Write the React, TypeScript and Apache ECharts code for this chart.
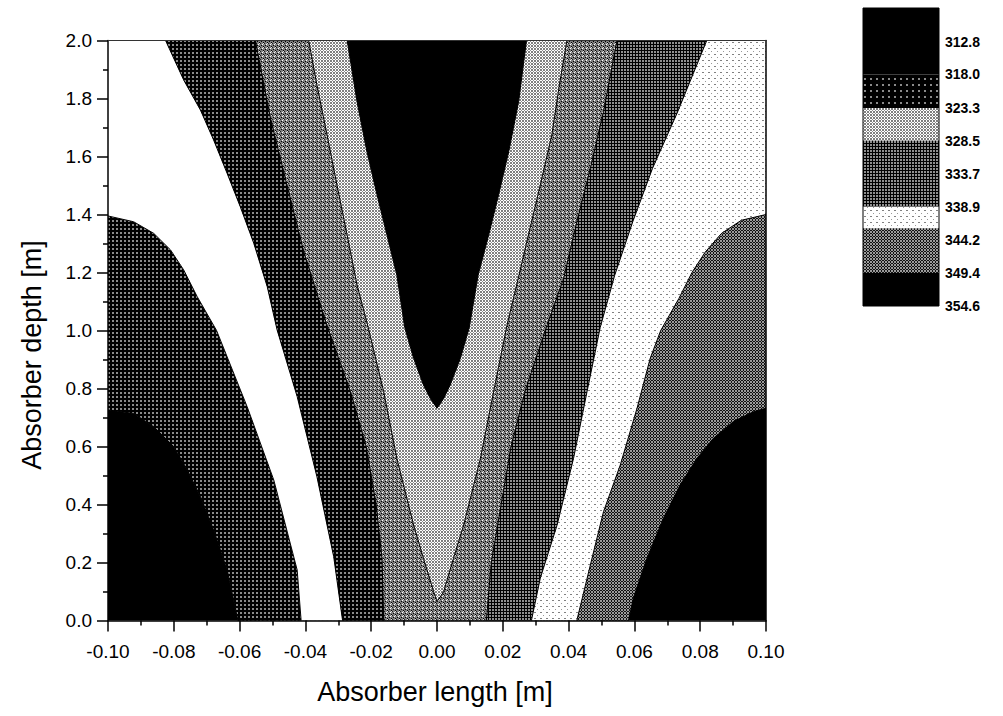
import React, { useEffect, useRef } from 'react';
import * as echarts from 'echarts';

// Axis ranges and tick steps
const X_MIN = -0.1;
const X_MAX = 0.1;
const X_STEP = 0.02;
const Y_MIN = 0;
const Y_MAX = 2.0;
const Y_STEP = 0.2;

// Temperature levels shown on the colour scale
const contourLevels = [312.8, 318.0, 323.3, 328.5, 333.7, 338.9, 344.2, 349.4, 354.6];
const scaleMin = 307.5;
const scaleFrom = [307.5, 318.0, 323.3, 328.5, 338.9, 342.3, 349.4];
const scaleTo = [318.0, 323.3, 328.5, 338.9, 342.3, 349.4, 354.6];

// Contour boundaries as [length, depth] points, from the bottom (or tip) upwards.
// Boundary k encloses band k (band 0 = centre, band 6 = outer corners).
const c0Left = [[0, 0.732], [-0.002, 0.765], [-0.0041, 0.812], [-0.0071, 0.904], [-0.0098, 1.01], [-0.0122, 1.191], [-0.0152, 1.329], [-0.0182, 1.467], [-0.0213, 1.617], [-0.0243, 1.789], [-0.0273, 2.0]];
const c0Right = [[0, 0.732], [0.002, 0.765], [0.004, 0.812], [0.0071, 0.904], [0.0098, 1.01], [0.0125, 1.191], [0.0157, 1.329], [0.0187, 1.467], [0.0218, 1.617], [0.0248, 1.789], [0.0272, 2.0]];

const c1Left = [[0, 0.065], [-0.001, 0.099], [-0.0041, 0.214], [-0.0071, 0.329], [-0.0122, 0.559], [-0.0162, 0.789], [-0.021, 1.015], [-0.0243, 1.157], [-0.0273, 1.329], [-0.0304, 1.502], [-0.0334, 1.674], [-0.0365, 1.847], [-0.039, 2.0]];
const c1Right = [[0, 0.065], [0.002, 0.099], [0.005, 0.214], [0.0081, 0.329], [0.0132, 0.559], [0.0172, 0.789], [0.0213, 1.019], [0.0247, 1.18], [0.0273, 1.306], [0.0314, 1.502], [0.0349, 1.674], [0.0372, 1.847], [0.0395, 2.0]];

const c2Left = [[-0.0162, 0], [-0.0167, 0.214], [-0.0185, 0.4], [-0.0215, 0.6], [-0.0263, 0.789], [-0.0335, 1.02], [-0.0405, 1.272], [-0.0456, 1.502], [-0.0506, 1.732], [-0.0552, 2.0]];
const c2Right = [[0.015, 0], [0.0165, 0.2], [0.0195, 0.4], [0.0225, 0.6], [0.027, 0.8], [0.0335, 1.02], [0.0385, 1.18], [0.0425, 1.375], [0.0466, 1.559], [0.0506, 1.755], [0.0547, 2.0]];

const c3Left = [[-0.0287, 0], [-0.0314, 0.22], [-0.0365, 0.496], [-0.0425, 0.772], [-0.0486, 1.002], [-0.0516, 1.151], [-0.0557, 1.301], [-0.0598, 1.427], [-0.0638, 1.542], [-0.0679, 1.657], [-0.0719, 1.76], [-0.077, 1.864], [-0.0825, 2.0]];
const c3Right = [[0.0287, 0], [0.0314, 0.146], [0.0365, 0.329], [0.0415, 0.559], [0.0456, 0.789], [0.0496, 1.01], [0.054, 1.19], [0.0595, 1.375], [0.0655, 1.559], [0.073, 1.75], [0.082, 2.0]];

const c4Left = [[-0.0413, 0], [-0.0425, 0.174], [-0.0496, 0.484], [-0.0577, 0.737], [-0.067, 1.0], [-0.0729, 1.117], [-0.077, 1.209], [-0.081, 1.278], [-0.0861, 1.335], [-0.0922, 1.375], [-0.1, 1.395]];
const c4Right = [[0.0425, 0], [0.0466, 0.191], [0.0506, 0.375], [0.0557, 0.536], [0.0608, 0.732], [0.0648, 0.904], [0.068, 1.0], [0.0735, 1.11], [0.0775, 1.2], [0.0815, 1.27], [0.0865, 1.335], [0.0925, 1.38], [0.1, 1.4]];

const c5Left = [[-0.0605, 0], [-0.0638, 0.174], [-0.0679, 0.312], [-0.0719, 0.427], [-0.0759, 0.519], [-0.08, 0.599], [-0.0861, 0.668], [-0.0922, 0.714], [-0.1, 0.726]];
const c5Right = [[0.0582, 0], [0.0597, 0.077], [0.0638, 0.214], [0.0688, 0.352], [0.0739, 0.467], [0.079, 0.559], [0.084, 0.628], [0.0901, 0.686], [0.0962, 0.72], [0.1, 0.732]];

const contours = [
  [c0Left, c0Right],
  [c1Left, c1Right],
  [c2Left, c2Right],
  [c3Left, c3Right],
  [c4Left, c4Right],
  [c5Left, c5Right],
];

const FONT = '"Liberation Sans", Arial, Helvetica, sans-serif';

function makeTile(size: number, bg: string, marks: [number, number, number, number, string][]) {
  const c = document.createElement('canvas');
  c.width = size;
  c.height = size;
  const ctx = c.getContext('2d')!;
  ctx.fillStyle = bg;
  ctx.fillRect(0, 0, size, size);
  marks.forEach(([x, y, w, h, col]) => {
    ctx.fillStyle = col;
    ctx.fillRect(x, y, w, h);
  });
  return { image: c.toDataURL(), repeat: 'repeat', imageWidth: size, imageHeight: size };
}

function buildFills(): Record<string, any> {
  return {
    black: '#000000',
    white: '#ffffff',
    lightChecker: makeTile(3, '#ffffff', [[0, 0, 2, 2, '#7f7f7f'], [2, 2, 1, 1, '#8c8c8c']]),
    speckled: makeTile(4, '#808080', [
      [1, 1, 1, 1, '#000000'],
      [3, 2, 1, 1, '#000000'],
      [0, 3, 1, 1, '#1a1a1a'],
      [2, 0, 1, 1, '#ffffff'],
      [3, 3, 1, 1, '#e0e0e0'],
    ]),
    darkChecker: makeTile(3, '#000000', [[0, 0, 2, 2, '#8e8e8e']]),
    grayChecker: makeTile(3, '#111111', [[0, 0, 2, 2, '#9a9a9a'], [2, 2, 1, 1, '#9a9a9a']]),
    whiteDotted: makeTile(6, '#ffffff', [[0, 0, 2, 1, '#808080'], [3, 3, 1, 1, '#999999']]),
    blackDotted: makeTile(4, '#000000', [[0, 0, 2, 2, '#8a8a8a']]),
    blackSparse: makeTile(6, '#000000', [[0, 0, 2, 2, '#8a8a8a']]),
  };
}

// Fill style for each band, right half and left half of the map
const rightTones = ['black', 'lightChecker', 'speckled', 'darkChecker', 'whiteDotted', 'grayChecker', 'black'];
const leftTones = ['black', 'lightChecker', 'speckled', 'blackDotted', 'white', 'blackDotted', 'black'];
const scaleTones = ['black', 'blackSparse', 'lightChecker', 'darkChecker', 'whiteDotted', 'grayChecker', 'black'];

function fmt(v: number, d: number) {
  const s = v.toFixed(d);
  return Math.abs(v) < 1e-9 ? (0).toFixed(d) : s;
}

function buildOption() {
  const fills = buildFills();

  // Paint order: outer band first, then each enclosed band on top
  const bandItems: number[][] = [];
  for (let band = 6; band >= 0; band--) {
    bandItems.push([0, 1, band, 0]);
    if (leftTones[band] !== rightTones[band]) bandItems.push([0, 1, band, 1]);
  }

  const lineSeries: any[] = [];
  contours.forEach((pair) => {
    pair.forEach((pts) => {
      lineSeries.push({
        type: 'line',
        xAxisIndex: 0,
        yAxisIndex: 0,
        data: pts,
        showSymbol: false,
        symbol: 'none',
        silent: true,
        z: 3,
        lineStyle: { color: '#000', width: 1 },
      });
    });
  });

  const axisCommon = {
    axisLine: { show: true, onZero: false, lineStyle: { color: '#000', width: 1.5 } },
    axisTick: { show: true, inside: false, length: 11, lineStyle: { color: '#000', width: 1.5 } },
    minorTick: { show: true, splitNumber: 2, length: 5, lineStyle: { color: '#000', width: 1.5 } },
    splitLine: { show: false },
    minorSplitLine: { show: false },
    z: 10,
  };

  return {
    animation: false,
    backgroundColor: '#ffffff',
    textStyle: { fontFamily: FONT },
    grid: [
      { left: 108, right: 237, top: 40.5, bottom: 95.5, containLabel: false },
      { left: 863, top: 8, width: 76, height: 298, containLabel: false },
    ],
    xAxis: [
      {
        type: 'value',
        gridIndex: 0,
        min: X_MIN,
        max: X_MAX,
        interval: X_STEP,
        position: 'bottom',
        ...axisCommon,
        axisLabel: { margin: 21, fontSize: 19, color: '#000', fontFamily: FONT, formatter: (v: number) => fmt(v, 2) },
      },
      { type: 'value', gridIndex: 1, min: 0, max: 1, show: false },
      {
        type: 'value',
        gridIndex: 0,
        min: X_MIN,
        max: X_MAX,
        position: 'top',
        axisLine: { show: true, onZero: false, lineStyle: { color: '#333', width: 1 } },
        axisTick: { show: false },
        axisLabel: { show: false },
        splitLine: { show: false },
        z: 10,
      },
    ],
    yAxis: [
      {
        type: 'value',
        gridIndex: 0,
        min: Y_MIN,
        max: Y_MAX,
        interval: Y_STEP,
        position: 'left',
        ...axisCommon,
        axisLabel: { margin: 16, fontSize: 19, color: '#000', fontFamily: FONT, formatter: (v: number) => fmt(v, 1) },
      },
      {
        type: 'value',
        gridIndex: 1,
        min: scaleMin,
        max: contourLevels[contourLevels.length - 1],
        inverse: true,
        position: 'right',
        axisLine: { show: false, onZero: false },
        axisTick: { show: false },
        splitLine: { show: false },
        axisLabel: {
          show: true,
          margin: 6,
          fontSize: 14,
          fontWeight: 'bold',
          color: '#000',
          fontFamily: FONT,
          customValues: contourLevels,
          formatter: (v: number) => v.toFixed(1),
        },
      },
      {
        type: 'value',
        gridIndex: 0,
        min: Y_MIN,
        max: Y_MAX,
        position: 'right',
        axisLine: { show: true, onZero: false, lineStyle: { color: '#000', width: 1.5 } },
        axisTick: { show: false },
        axisLabel: { show: false },
        splitLine: { show: false },
        z: 10,
      },
    ],
    graphic: [
      {
        type: 'text',
        x: 435,
        y: 692,
        style: { text: 'Absorber length [m]', fontSize: 27, fontFamily: FONT, fill: '#000', align: 'center', verticalAlign: 'middle' },
      },
      {
        type: 'text',
        x: 32,
        y: 355,
        rotation: Math.PI / 2,
        style: { text: 'Absorber depth [m]', fontSize: 27, fontFamily: FONT, fill: '#000', align: 'center', verticalAlign: 'middle' },
      },
    ],
    series: [
      {
        type: 'custom',
        xAxisIndex: 0,
        yAxisIndex: 0,
        silent: true,
        z: 2,
        data: bandItems,
        encode: { x: 0, y: 1 },
        renderItem: (params: any, api: any) => {
          const band = api.value(2);
          const half = api.value(3);
          let pts: number[][];
          if (band === 6) {
            pts = [[X_MIN, Y_MIN], [X_MAX, Y_MIN], [X_MAX, Y_MAX], [X_MIN, Y_MAX]];
          } else {
            const [L, R] = contours[band];
            const lTop = L[L.length - 1];
            const rTop = R[R.length - 1];
            if (!half) {
              pts = [...L, [lTop[0], Y_MAX], [rTop[0], Y_MAX], ...R.slice().reverse()];
            } else {
              pts = [[0, L[0][1]], ...L, [lTop[0], Y_MAX], [0, Y_MAX]];
            }
          }
          const tone = half ? leftTones[band] : rightTones[band];
          return {
            type: 'polygon',
            shape: { points: pts.map((p) => api.coord(p)) },
            style: { fill: fills[tone], stroke: null },
          };
        },
      },
      ...lineSeries,
      {
        type: 'custom',
        xAxisIndex: 1,
        yAxisIndex: 1,
        silent: true,
        data: scaleFrom.map((f, i) => [0.5, f, scaleTo[i], i]),
        encode: { x: 0, y: 1 },
        renderItem: (params: any, api: any) => {
          const p1 = api.coord([0, api.value(1)]);
          const p2 = api.coord([1, api.value(2)]);
          return {
            type: 'rect',
            shape: { x: p1[0], y: p1[1], width: p2[0] - p1[0], height: p2[1] - p1[1] },
            style: { fill: fills[scaleTones[api.value(3)]], stroke: null },
          };
        },
      },
      {
        type: 'custom',
        xAxisIndex: 1,
        yAxisIndex: 1,
        silent: true,
        z: 4,
        data: [[0.5, scaleMin]],
        encode: { x: 0, y: 1 },
        renderItem: (params: any, api: any) => {
          const p1 = api.coord([0, scaleMin]);
          const p2 = api.coord([1, contourLevels[contourLevels.length - 1]]);
          return {
            type: 'rect',
            shape: { x: p1[0], y: p1[1], width: p2[0] - p1[0], height: p2[1] - p1[1] },
            style: { fill: 'none', stroke: '#000', lineWidth: 1 },
          };
        },
      },
    ],
  };
}

export default function App() {
  const ref = useRef<HTMLDivElement | null>(null);

  useEffect(() => {
    if (!ref.current) return;
    const chart = echarts.init(ref.current, undefined, { renderer: 'svg' });
    chart.setOption(buildOption() as any);
    return () => {
      chart.dispose();
    };
  }, []);

  return (
    <div
      ref={ref}
      style={{ position: 'absolute', left: 0, top: 0, width: 1003, height: 716, background: '#fff' }}
    />
  );
}
